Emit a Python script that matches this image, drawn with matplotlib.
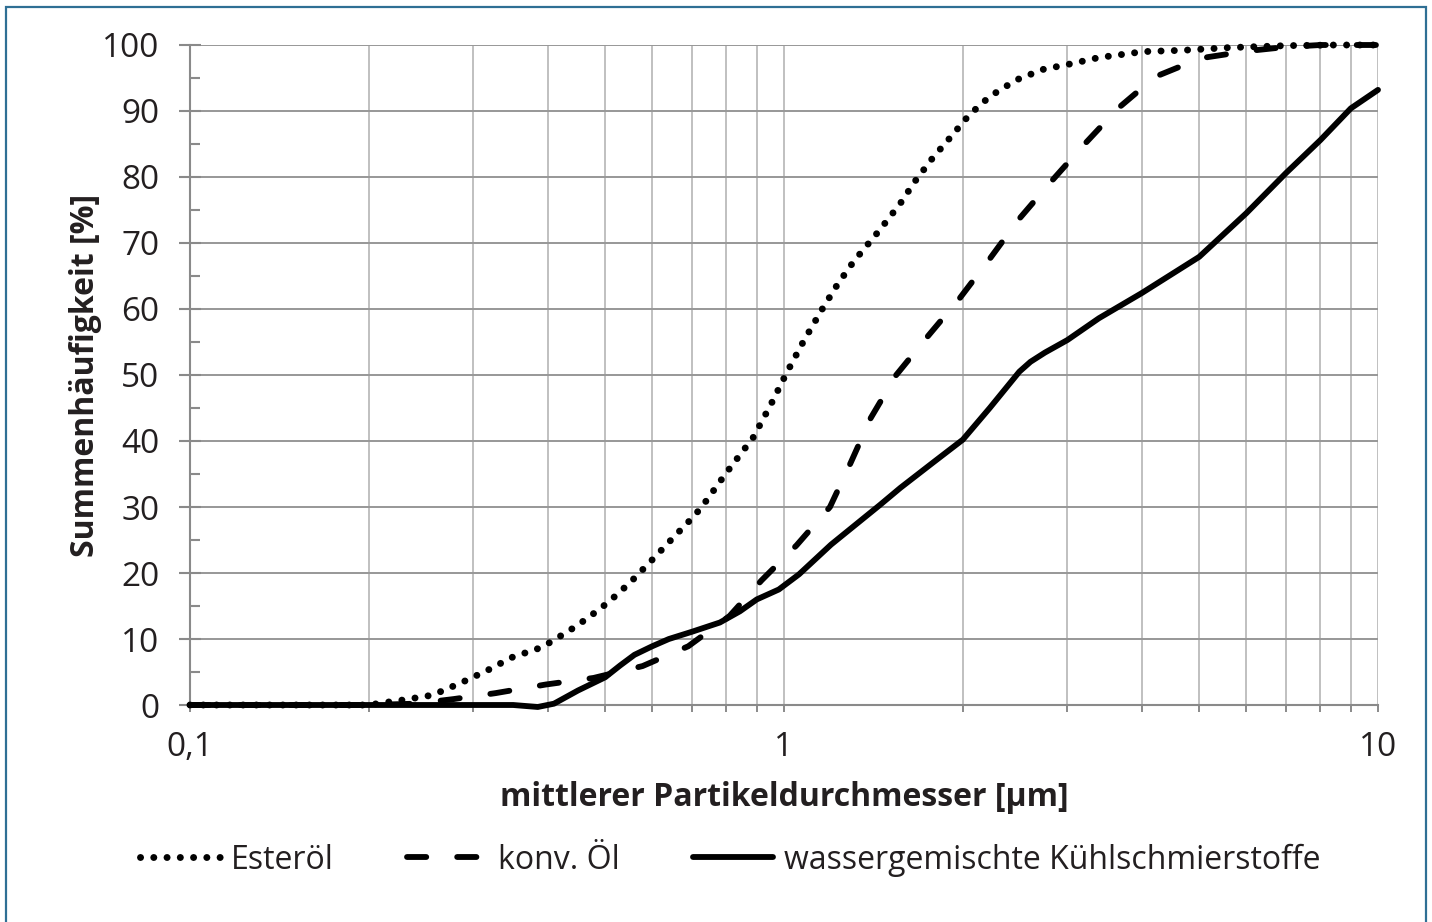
import numpy as np
import matplotlib
matplotlib.use('Agg')
import matplotlib.pyplot as plt
from matplotlib.patches import Rectangle
from matplotlib.ticker import FixedLocator, NullFormatter, MultipleLocator

plt.rcParams['font.family'] = ['Open Sans', 'DejaVu Sans']

# Esteröl (gepunktet)
ester_x = [0.1, 0.15, 0.2, 0.21, 0.23, 0.256, 0.285, 0.316, 0.348, 0.387, 0.406, 0.448, 0.489, 0.511,
           0.55, 0.6, 0.65, 0.7, 0.727, 0.8, 0.887, 0.95, 1.01, 1.08, 1.16, 1.23, 1.31, 1.45, 1.57,
           1.66, 1.78, 1.91, 2.05, 2.22, 2.46, 2.73, 3.06, 3.39, 4.03, 4.7, 5.6, 7, 8.5, 10]
ester_y = [0, 0, 0, 0.3, 0.8, 1.5, 3.3, 5.2, 7.2, 8.6, 9.6, 12, 14.5, 15.9,
           18.5, 22, 25.3, 28.3, 30, 35.2, 40.5, 45.5, 50.3, 55.2, 60, 63.7, 67.2, 72, 76,
           79.3, 82.9, 86.1, 89.4, 92.2, 94.7, 96.3, 97.2, 98.1, 99, 99.2, 99.6, 99.9, 100, 100]

# konv. Öl (gestrichelt)
konv_x = [0.1, 0.2, 0.24, 0.278, 0.327, 0.397, 0.478, 0.578, 0.69, 0.81, 0.917, 1.05, 1.195,
          1.295, 1.40, 1.545, 1.74, 1.975, 2.22, 2.48, 2.81, 3.2, 3.65, 4.22, 5.03, 6.05, 7, 8, 10]
konv_y = [0, 0, 0.2, 0.9, 1.8, 3.1, 4.1, 5.9, 8.9, 13.5, 18.9, 24.2, 30,
          36.7, 43.5, 50, 55.7, 61.6, 67.6, 73.5, 79.2, 84.9, 90.4, 95.2, 98, 99.1, 99.7, 100, 100]

# wassergemischte Kühlschmierstoffe (durchgezogen)
kss_x = [0.1, 0.2, 0.3, 0.35, 0.385, 0.41, 0.45, 0.5, 0.53, 0.56, 0.6, 0.64, 0.7, 0.78, 0.843,
         0.9, 0.98, 1.06, 1.2, 1.45, 1.57, 1.78, 2.0, 2.22, 2.49, 2.6, 2.75, 3.0, 3.39,
         4.0, 5.0, 6.0, 7.0, 8.0, 9.0, 10]
kss_y = [0, 0, 0, 0, -0.3, 0.2, 2.2, 4.2, 6.0, 7.6, 8.9, 10.0, 11.1, 12.5, 14.2,
         16, 17.5, 19.8, 24.3, 30.3, 32.9, 36.7, 40.2, 45, 50.5, 52, 53.4, 55.3, 58.6,
         62.4, 67.9, 74.5, 80.6, 85.6, 90.4, 93.2]

XTICKS = [0.1, 1, 10]
XTICKLABELS = ['0,1', '1', '10']

TXT = '#231f20'
fig = plt.figure(figsize=(14.32, 9.22), dpi=100)
ax = fig.add_axes([190 / 1432, 1 - 705 / 922, (1378 - 190) / 1432, (705 - 45) / 922])

lw = 4.2
ax.plot(ester_x, ester_y, color='black', lw=5.0, linestyle=(0, (0.01, 1.9)),
        dash_capstyle='round', solid_capstyle='round', label='Esteröl', clip_on=False, zorder=5)
ax.plot(konv_x, konv_y, color='black', lw=lw, linestyle=(0, (3.3, 5.3)),
        dash_capstyle='round', label='konv. Öl', clip_on=False, zorder=5)
ax.plot(kss_x, kss_y, color='black', lw=lw, solid_capstyle='round', solid_joinstyle='round',
        label='wassergemischte Kühlschmierstoffe', clip_on=False, zorder=5)

ax.set_xscale('log')
ax.set_xlim(0.1, 10)
ax.set_ylim(0, 100)

ax.xaxis.set_major_locator(FixedLocator(XTICKS))
ax.xaxis.set_minor_locator(FixedLocator([m * d for d in (0.1, 1) for m in range(2, 10)]))
ax.xaxis.set_minor_formatter(NullFormatter())
ax.set_xticks(XTICKS)
ax.set_xticklabels(XTICKLABELS)
ax.yaxis.set_major_locator(MultipleLocator(10))
ax.yaxis.set_minor_locator(MultipleLocator(5))

# Gitter: senkrecht hell, waagerecht etwas dunkler
ax.grid(axis='x', which='both', color='#c0c0c0', lw=1.4, zorder=0)
ax.grid(axis='y', which='major', color='#979797', lw=1.4, zorder=0)
ax.set_axisbelow(True)

for s in ('top', 'right'):
    ax.spines[s].set_visible(False)
for s in ('left', 'bottom'):
    ax.spines[s].set_color('#8a8a8a')
    ax.spines[s].set_linewidth(1.5)

ax.tick_params(axis='y', which='major', direction='inout', length=16, width=1.5, color='#8a8a8a',
               labelsize=24, labelcolor=TXT, pad=14)
ax.tick_params(axis='y', which='minor', direction='in', length=7, width=1.5, color='#8a8a8a')
ax.tick_params(axis='x', which='both', direction='out', length=5, width=1.4, color='#8a8a8a',
               labelsize=24, labelcolor=TXT, pad=14)

ax.set_xlabel('mittlerer Partikeldurchmesser [µm]', fontsize=23, fontweight='bold', color=TXT, labelpad=12)
ax.set_ylabel('Summenhäufigkeit [%]', fontsize=23, fontweight='bold', color=TXT, labelpad=22)
ax.yaxis.set_label_coords(-88 / 1188, 0.5)

leg = fig.legend(loc='center', bbox_to_anchor=(0.51, 1 - 860 / 922), ncol=3, frameon=False,
                 fontsize=23, handlelength=2.5, handletextpad=0.35, columnspacing=2.3,
                 labelcolor=TXT)

fig.add_artist(Rectangle((6 / 1432, -0.01), (1426 - 6) / 1432, 1.01 - 7 / 922,
                         transform=fig.transFigure, fill=False, edgecolor='#2f6f94', lw=1.6))

fig.savefig('out.png', dpi=100)
